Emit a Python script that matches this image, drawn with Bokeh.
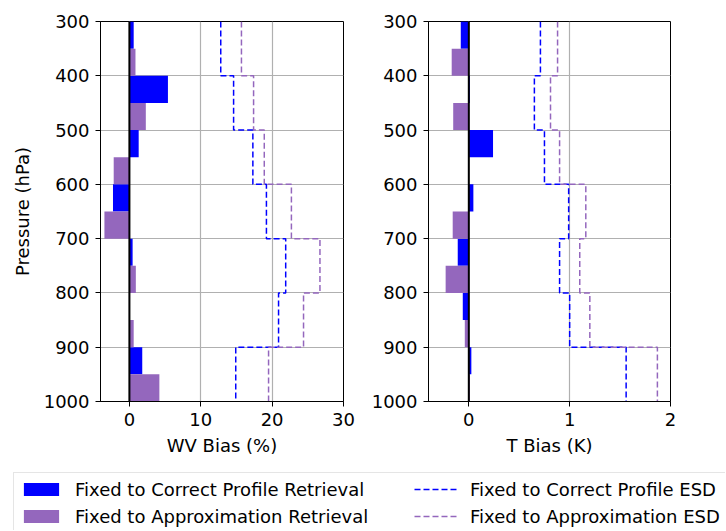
import numpy as np
from bokeh.plotting import figure
from bokeh.models import Range1d, FixedTicker, Span, Legend, LegendItem
from bokeh.layouts import column, row
from bokeh.embed import file_html
from bokeh.resources import INLINE

# ---- data ----
edges = [300, 400, 500, 600, 700, 800, 900, 1000]          # layer boundaries (hPa)
wv_correct = [0.6, 5.4, 1.3, -2.3, 0.45, 0.05, 1.8]        # WV bias (%)
wv_approx = [0.85, 2.3, -2.2, -3.5, 0.9, 0.6, 4.2]
t_correct = [-0.08, 0.01, 0.24, 0.045, -0.11, -0.06, 0.025]  # T bias (K)
t_approx = [-0.17, -0.155, 0.0, -0.16, -0.23, -0.04, 0.01]
wv_esd_correct = [12.8, 14.6, 17.3, 19.2, 21.9, 20.9, 14.9]
wv_esd_approx = [15.7, 17.4, 18.9, 22.7, 26.7, 24.4, 19.5]
t_esd_correct = [0.71, 0.65, 0.75, 0.99, 0.90, 1.00, 1.56]
t_esd_approx = [0.88, 0.81, 0.90, 1.16, 1.10, 1.20, 1.87]
wv_ticks = [0, 10, 20, 30]
t_ticks = [0, 1, 2]
p_ticks = [300, 400, 500, 600, 700, 800, 900, 1000]

labels = ["Fixed to Correct Profile Retrieval", "Fixed to Approximation Retrieval",
          "Fixed to Correct Profile ESD", "Fixed to Approximation ESD"]

BLUE = "#0000ff"
PURPLE = "#9467bd"
FONT = "DejaVu Sans"
FS = "18px"

e = np.array(edges, dtype=float)
bar_h = (e[1] - e[0]) / 2.0
y_blue = e[:-1] + bar_h / 2.0
y_purple = e[:-1] + 1.5 * bar_h
step_y = np.column_stack([e[:-1], e[1:]]).ravel()


def style(p, xticks, xlabel, ylabel):
    p.xaxis.ticker = FixedTicker(ticks=xticks)
    p.yaxis.ticker = FixedTicker(ticks=p_ticks)
    for ax in (p.xaxis, p.yaxis):
        ax.major_label_text_font = FONT
        ax.major_label_text_font_size = FS
        ax.major_label_text_color = "black"
        ax.axis_label_text_font = FONT
        ax.axis_label_text_font_size = FS
        ax.axis_label_text_font_style = "normal"
        ax.axis_label_text_color = "black"
        ax.axis_line_color = "black"
        ax.major_tick_line_color = "black"
        ax.major_tick_out = 5
        ax.major_tick_in = 0
        ax.minor_tick_line_color = None
        ax.major_label_standoff = 6
    p.xaxis.axis_label = xlabel
    p.xaxis.axis_label_standoff = 6
    if ylabel:
        p.yaxis.axis_label = ylabel
        p.yaxis.axis_label_standoff = 8
    for g in (p.xgrid, p.ygrid):
        g.grid_line_color = "#b0b0b0"
        g.grid_line_width = 1.2
    p.outline_line_color = "black"
    p.outline_line_alpha = 1.0
    p.outline_line_width = 1


def add_series(p, blue_vals, purple_vals, esd_c, esd_a):
    rb = p.hbar(y=y_blue, left=0, right=blue_vals, height=bar_h,
                fill_color=BLUE, line_color=None)
    rp = p.hbar(y=y_purple, left=0, right=purple_vals, height=bar_h,
                fill_color=PURPLE, line_color=None)
    lb = p.line(np.repeat(esd_c, 2), step_y, line_color=BLUE, line_width=1.5, line_dash="6 3")
    lp = p.line(np.repeat(esd_a, 2), step_y, line_color=PURPLE, line_width=1.5, line_dash="6 3")
    return rb, rp, lb, lp


def panel(xr, blue_vals, purple_vals, esd_c, esd_a, xticks, xlabel, ylabel, left, right, fw):
    p = figure(frame_width=fw, frame_height=380,
               x_range=xr, y_range=Range1d(1000, 300),
               output_backend="svg", toolbar_location=None,
               min_border_left=left, min_border_right=right,
               min_border_top=21, min_border_bottom=65)
    style(p, xticks, xlabel, ylabel)
    add_series(p, blue_vals, purple_vals, esd_c, esd_a)
    p.add_layout(Span(location=0, dimension="height", line_color="black", line_width=2))
    return p


p1 = panel(Range1d(-4.05, 30), wv_correct, wv_approx, wv_esd_correct, wv_esd_approx,
           wv_ticks, "WV Bias (%)", "Pressure (hPa)", 100, 25, 243)
p2 = panel(Range1d(-0.4, 2.0), t_correct, t_approx, t_esd_correct, t_esd_approx,
           t_ticks, "T Bias (K)", None, 60, 55, 242)

# ---- legend figure (series drawn out of its view, used only as legend keys) ----
lf = figure(width=725, height=64, x_range=Range1d(-100, -99), y_range=Range1d(-100, -99),
            output_backend="svg", toolbar_location=None,
            x_axis_type=None, y_axis_type=None,
            min_border=0)
lf.grid.visible = False
lf.outline_line_color = None
r1, r2, r3, r4 = add_series(lf, wv_correct, wv_approx, wv_esd_correct, wv_esd_approx)
legend = Legend(items=[LegendItem(label=labels[0], renderers=[r1]),
                       LegendItem(label=labels[1], renderers=[r2]),
                       LegendItem(label=labels[2], renderers=[r3]),
                       LegendItem(label=labels[3], renderers=[r4])],
                ncols=2, location=(13, -3),
                glyph_width=44, glyph_height=16, label_height=22, label_width=334,
                label_standoff=12, spacing=5, padding=5, margin=0,
                label_text_font=FONT, label_text_font_size=FS,
                label_text_color="black",
                border_line_color="#cccccc", border_line_width=1,
                background_fill_color="white", background_fill_alpha=1.0)
lf.add_layout(legend, "center")

layout = column(row(p1, p2), lf)
open("out.html", "w").write(file_html(layout, INLINE))
